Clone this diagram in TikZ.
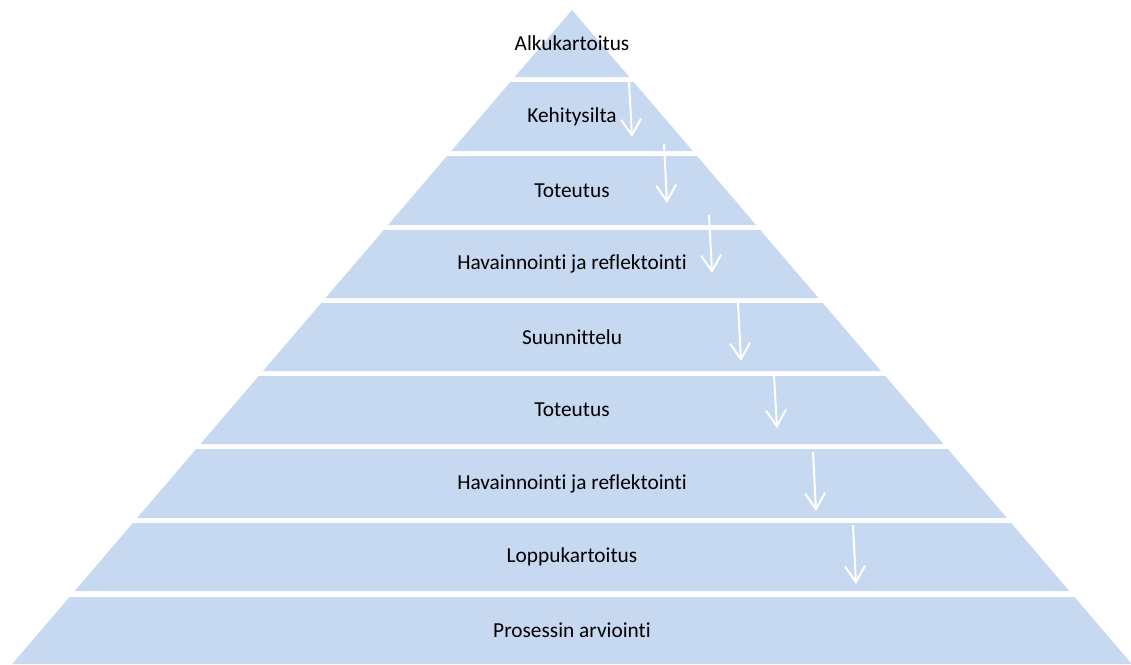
\documentclass[tikz,border=0pt]{standalone}
\usepackage{fontspec}
\setmainfont{Carlito}[RawFeature={-liga;-dlig;-clig}]
\usetikzlibrary{arrows.meta}
\definecolor{layer}{HTML}{C6D9F1}
\tikzset{
  layertext/.style={font=\fontsize{16}{19}\selectfont, text=black},
  flow/.style={draw=white, line width=1.5pt, -{Straight Barb[length=12pt,width=15pt]}}
}

\begin{document}
\begin{tikzpicture}[x=0.75pt,y=-0.75pt]
		\useasboundingbox (0,0) rectangle (1131,664);
		
		%draw layers
		\foreach \t/\b in {10/77,82/151,156/225,230/298,303/371,376/444,449/518,523/591,597/664}
		\fill[layer] ({572-0.856*(\t-10)},\t) -- ({572+0.856*(\t-10)},\t) -- ({572+0.856*(\b-10)},\b) -- ({572-0.856*(\b-10)},\b) -- cycle;
		
		%names
		\foreach \n/\y/\txt in {alku/43.5/Alkukartoitus, silta/116.5/Kehitysilta, tot1/190.5/Toteutus, hav1/264/Havainnointi ja reflektointi, suun/337/Suunnittelu, tot2/410/Toteutus, hav2/483.5/Havainnointi ja reflektointi, loppu/557/Loppukartoitus, arvio/630.5/Prosessin arviointi}
		\node[layertext] (\n) at (572,\y) {\txt};
		
		%draw arrows
		\foreach \i/\xs/\ys/\xe/\ye in {1/629/82/632/137, 2/664/144/667/203, 3/709/215/712/273, 4/738/303/741/361, 5/774/375/777/428, 6/813/452/816/511, 7/853/525/856/584}
		{
		\coordinate (s\i) at (\xs,\ys);
		\coordinate (e\i) at (\xe,\ye);
		\draw[flow] (s\i) -- (e\i);
		}
	\end{tikzpicture}
\end{document}
